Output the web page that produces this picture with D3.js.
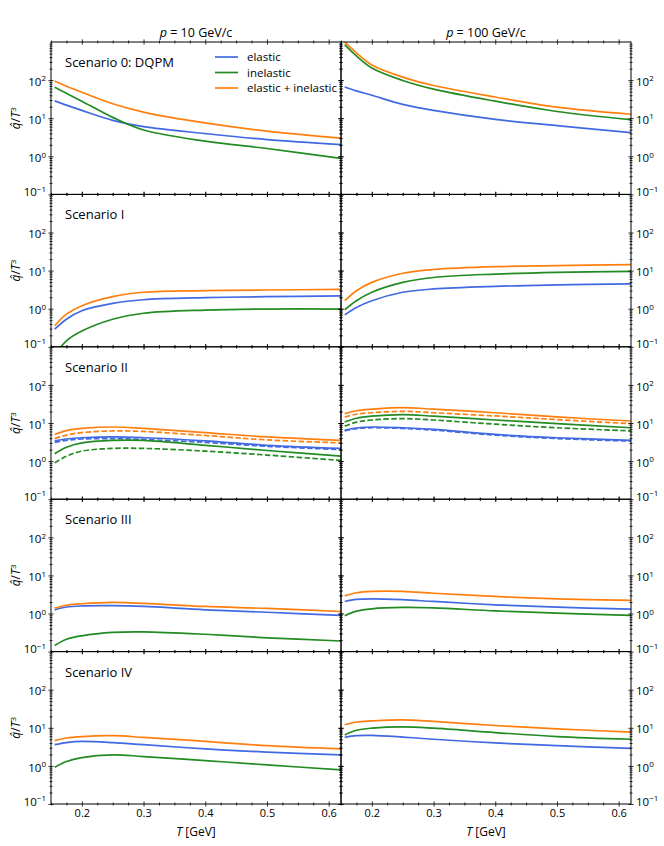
<html>
<head>
<style>
  body { margin: 0; background: #fff; }
  text { font-family: "Open Sans", "DejaVu Sans", sans-serif; fill: #000; }
</style>
</head>
<body>
<svg width="664" height="846" id="fig"></svg>

<script src="https://cdn.jsdelivr.net/npm/d3@7"></script>
<script>
var T = [0.156, 0.175, 0.2, 0.25, 0.3, 0.4, 0.5, 0.62];

var scenarios = ["Scenario 0: DQPM", "Scenario I", "Scenario II", "Scenario III", "Scenario IV"];
var momenta = ["10", "100"];
var seriesNames = ["elastic", "inelastic", "elastic + inelastic"];
var seriesColors = ["#4169e1", "#228b22", "#ff7f0e"];
var xMajor = [0.2, 0.3, 0.4, 0.5, 0.6];
var yMajor = [0.1, 1, 10, 100];
var yExp = ["\u22121", "0", "1", "2"];

// qhat/T^3, p = 10 GeV/c, one row per scenario
var elastic10 = [
  [28.5, 22, 16, 8.8, 6.0, 3.95, 2.75, 2.03],
  [0.29, 0.53, 0.885, 1.38, 1.72, 1.95, 2.07, 2.16],
  [3.4, 3.8, 4.1, 4.3, 4.1, 3.4, 2.6, 2.15],
  [1.25, 1.48, 1.58, 1.6, 1.53, 1.25, 1.08, 0.89],
  [3.6, 4.1, 4.4, 4.1, 3.6, 2.8, 2.3, 1.95]
];
var inelastic10 = [
  [65, 45, 28, 10.5, 4.9, 2.5, 1.6, 0.885],
  [0.06, 0.144, 0.26, 0.53, 0.76, 0.92, 0.98, 0.98],
  [1.56, 2.3, 3.0, 3.5, 3.5, 2.6, 1.9, 1.35],
  [0.144, 0.21, 0.26, 0.32, 0.33, 0.285, 0.23, 0.19],
  [0.92, 1.3, 1.65, 1.95, 1.76, 1.38, 1.06, 0.79]
];
var total10 = [
  [95, 69, 48, 24, 14.5, 7.5, 4.6, 3.0],
  [0.357, 0.72, 1.2, 2.07, 2.7, 2.98, 3.1, 3.2],
  [5.0, 6.3, 7.2, 7.85, 7.2, 5.6, 4.3, 3.5],
  [1.38, 1.65, 1.8, 1.95, 1.85, 1.53, 1.36, 1.13],
  [4.6, 5.4, 5.9, 6.2, 5.6, 4.4, 3.4, 2.8]
];

// p = 100 GeV/c
var elastic100 = [
  [66, 52, 40, 23, 16, 9.3, 6.4, 4.2],
  [0.69, 1.08, 1.62, 2.7, 3.3, 3.86, 4.2, 4.5],
  [6.5, 7.4, 7.85, 7.5, 6.8, 5.0, 4.1, 3.5],
  [2.07, 2.35, 2.43, 2.3, 2.07, 1.69, 1.47, 1.3],
  [5.6, 6.2, 6.3, 5.7, 5.0, 4.0, 3.4, 2.9]
];
var inelastic100 = [
  [850, 430, 208, 98, 58, 28, 15, 9.2],
  [0.94, 1.62, 2.7, 4.9, 6.6, 8.1, 9.0, 9.6],
  [10.6, 13.3, 15.1, 16.6, 15.1, 12.0, 9.6, 7.5],
  [0.87, 1.15, 1.33, 1.44, 1.4, 1.17, 1.02, 0.89],
  [6.5, 8.6, 9.8, 10.6, 9.8, 7.5, 5.9, 5.0]
];
var total100 = [
  [1000, 520, 250, 120, 72, 36, 19.5, 12.7],
  [1.62, 2.97, 4.9, 8.5, 10.7, 12.7, 13.5, 14.4],
  [17.6, 21, 23, 25.3, 23, 18.6, 14.4, 11.3],
  [2.9, 3.5, 3.8, 3.8, 3.4, 2.8, 2.43, 2.2],
  [12, 14.2, 15.2, 16.2, 14.7, 11.5, 9.4, 7.7]
];

// dashed variants, Scenario II only
var elastic10Dashed = [3.1, 3.5, 3.8, 3.9, 3.7, 3.1, 2.45, 2.0];
var inelastic10Dashed = [0.9, 1.35, 1.83, 2.15, 2.15, 1.83, 1.44, 1.04];
var total10Dashed = [3.9, 4.8, 5.6, 6.2, 6.0, 4.7, 3.6, 3.0];
var elastic100Dashed = [6.2, 7.1, 7.5, 7.2, 6.5, 4.8, 3.9, 3.35];
var inelastic100Dashed = [8.3, 10.5, 12.0, 13.0, 12.0, 9.3, 7.5, 6.2];
var total100Dashed = [14.4, 17, 18.6, 20.3, 18.6, 15.3, 12.3, 9.6];

var svg = d3.select("#fig");
var top0 = 42, rowH = 152.4;
var cols = [[51, 341], [341, 631]];

var x = cols.map(function(c) {
  return d3.scaleLinear().domain([0.15, 0.62]).range(c);
});

var xMinor = d3.range(0.15, 0.6001, 0.025).filter(function(v) {
  return xMajor.every(function(m) { return Math.abs(m - v) > 1e-6; });
});
var yMinor = [];
[-1, 0, 1, 2].forEach(function(k) {
  for (var m = 2; m <= 9; m++) yMinor.push(m * Math.pow(10, k));
});

function inout(g, len, vertical) {
  g.selectAll(".tick line")
    .attr(vertical ? "x1" : "y1", -len)
    .attr(vertical ? "x2" : "y2", len)
    .attr("stroke", "#000").attr("stroke-width", 0.8);
  g.select(".domain").remove();
}

var line = d3.line().curve(d3.curveCatmullRom.alpha(0.5));

function drawPanel(row, col) {
  var yTop = top0 + row * rowH, yBot = yTop + rowH;
  var y = d3.scaleLog().domain([0.1, 1000]).range([yBot, yTop]);
  var xs = x[col];
  var g = svg.append("g");
  var id = "clip" + row + "_" + col;

  g.append("clipPath").attr("id", id).append("rect")
    .attr("x", xs.range()[0]).attr("y", yTop)
    .attr("width", xs.range()[1] - xs.range()[0]).attr("height", rowH);

  var curves = g.append("g").attr("clip-path", "url(#" + id + ")");
  var el = col === 0 ? elastic10 : elastic100;
  var inel = col === 0 ? inelastic10 : inelastic100;
  var tot = col === 0 ? total10 : total100;
  var sets = [el[row], inel[row], tot[row]];

  if (row === 2) {
    var dashed = col === 0
      ? [elastic10Dashed, inelastic10Dashed, total10Dashed]
      : [elastic100Dashed, inelastic100Dashed, total100Dashed];
    dashed.forEach(function(vals, i) {
      curves.append("path")
        .attr("d", line(vals.map(function(v, j) { return [xs(T[j]), y(v)]; })))
        .attr("fill", "none").attr("stroke", seriesColors[i])
        .attr("stroke-width", 1.7).attr("stroke-dasharray", "5.5,2.4");
    });
  }
  sets.forEach(function(vals, i) {
    curves.append("path")
      .attr("d", line(vals.map(function(v, j) { return [xs(T[j]), y(v)]; })))
      .attr("fill", "none").attr("stroke", seriesColors[i])
      .attr("stroke-width", 1.7);
  });

  // frame
  g.append("rect")
    .attr("x", xs.range()[0]).attr("y", yTop)
    .attr("width", xs.range()[1] - xs.range()[0]).attr("height", rowH)
    .attr("fill", "none").attr("stroke", "#000").attr("stroke-width", 1);

  // y ticks on both sides
  [xs.range()[0], xs.range()[1]].forEach(function(px, side) {
    var labelled = (col === 0 && side === 0) || (col === 1 && side === 1);
    var ax = side === 0 ? d3.axisLeft(y) : d3.axisRight(y);
    var gm = g.append("g").attr("transform", "translate(" + px + ",0)")
      .call(ax.tickValues(yMajor).tickSize(0).tickPadding(5).tickFormat(""));
    inout(gm, 2.6, true);
    if (labelled) {
      gm.selectAll(".tick text").each(function(d, i) {
        var t = d3.select(this).attr("font-size", 11.5)
          .attr("dy", d === 0.1 ? "0.1em" : "0.45em");
        t.text("10");
        t.append("tspan").attr("dy", "-0.55em").attr("font-size", 8)
          .text(yExp[yMajor.indexOf(d)]);
      });
    }
    var gn = g.append("g").attr("transform", "translate(" + px + ",0)")
      .call(ax.tickValues(yMinor).tickSize(0).tickFormat(""));
    inout(gn, 1.5, true);
  });

  // x ticks top and bottom
  [yTop, yBot].forEach(function(py, side) {
    var ax = d3.axisBottom(xs);
    var gm = g.append("g").attr("transform", "translate(0," + py + ")")
      .call(ax.tickValues(xMajor).tickSize(0).tickPadding(4)
        .tickFormat(row === 4 && side === 1 ? d3.format(".1f") : ""));
    inout(gm, 2.6, false);
    gm.selectAll(".tick text").attr("font-size", 11).attr("dy", "0.8em");
    var gn = g.append("g").attr("transform", "translate(0," + py + ")")
      .call(ax.tickValues(xMinor).tickSize(0).tickFormat(""));
    inout(gn, 1.5, false);
  });

  if (col === 0) {
    g.append("text").attr("x", 65).attr("y", yTop + 25)
      .attr("font-size", 13).text(scenarios[row]);
    var ylab = g.append("text")
      .attr("transform", "translate(20," + (yTop + rowH / 2) + ") rotate(-90)")
      .attr("text-anchor", "middle").attr("font-size", 12);
    ylab.append("tspan").attr("font-style", "italic").text("q\u0302");
    ylab.append("tspan").text("/");
    ylab.append("tspan").attr("font-style", "italic").text("T");
    ylab.append("tspan").attr("dy", "-0.5em").attr("font-size", 8).text("3");
  }
}

for (var r = 0; r < scenarios.length; r++) {
  drawPanel(r, 0);
  drawPanel(r, 1);
}

// column titles and x labels
momenta.forEach(function(p, c) {
  var cx = (x[c].range()[0] + x[c].range()[1]) / 2;
  var t = svg.append("text").attr("x", cx).attr("y", 37)
    .attr("text-anchor", "middle").attr("font-size", 12.5);
  t.append("tspan").attr("font-style", "italic").text("p");
  t.append("tspan").text(" = " + p + " GeV/c");
  var xl = svg.append("text").attr("x", cx).attr("y", 836)
    .attr("text-anchor", "middle").attr("font-size", 12);
  xl.append("tspan").attr("font-style", "italic").text("T");
  xl.append("tspan").text(" [GeV]");
});

// legend in the first panel
var leg = svg.append("g");
seriesNames.forEach(function(name, i) {
  var ly = 57 + i * 15.5;
  leg.append("line").attr("x1", 215).attr("x2", 238)
    .attr("y1", ly).attr("y2", ly)
    .attr("stroke", seriesColors[i]).attr("stroke-width", 1.7);
  leg.append("text").attr("x", 247).attr("y", ly + 4)
    .attr("font-size", 11.5).text(name);
});
</script>
</body>
</html>
